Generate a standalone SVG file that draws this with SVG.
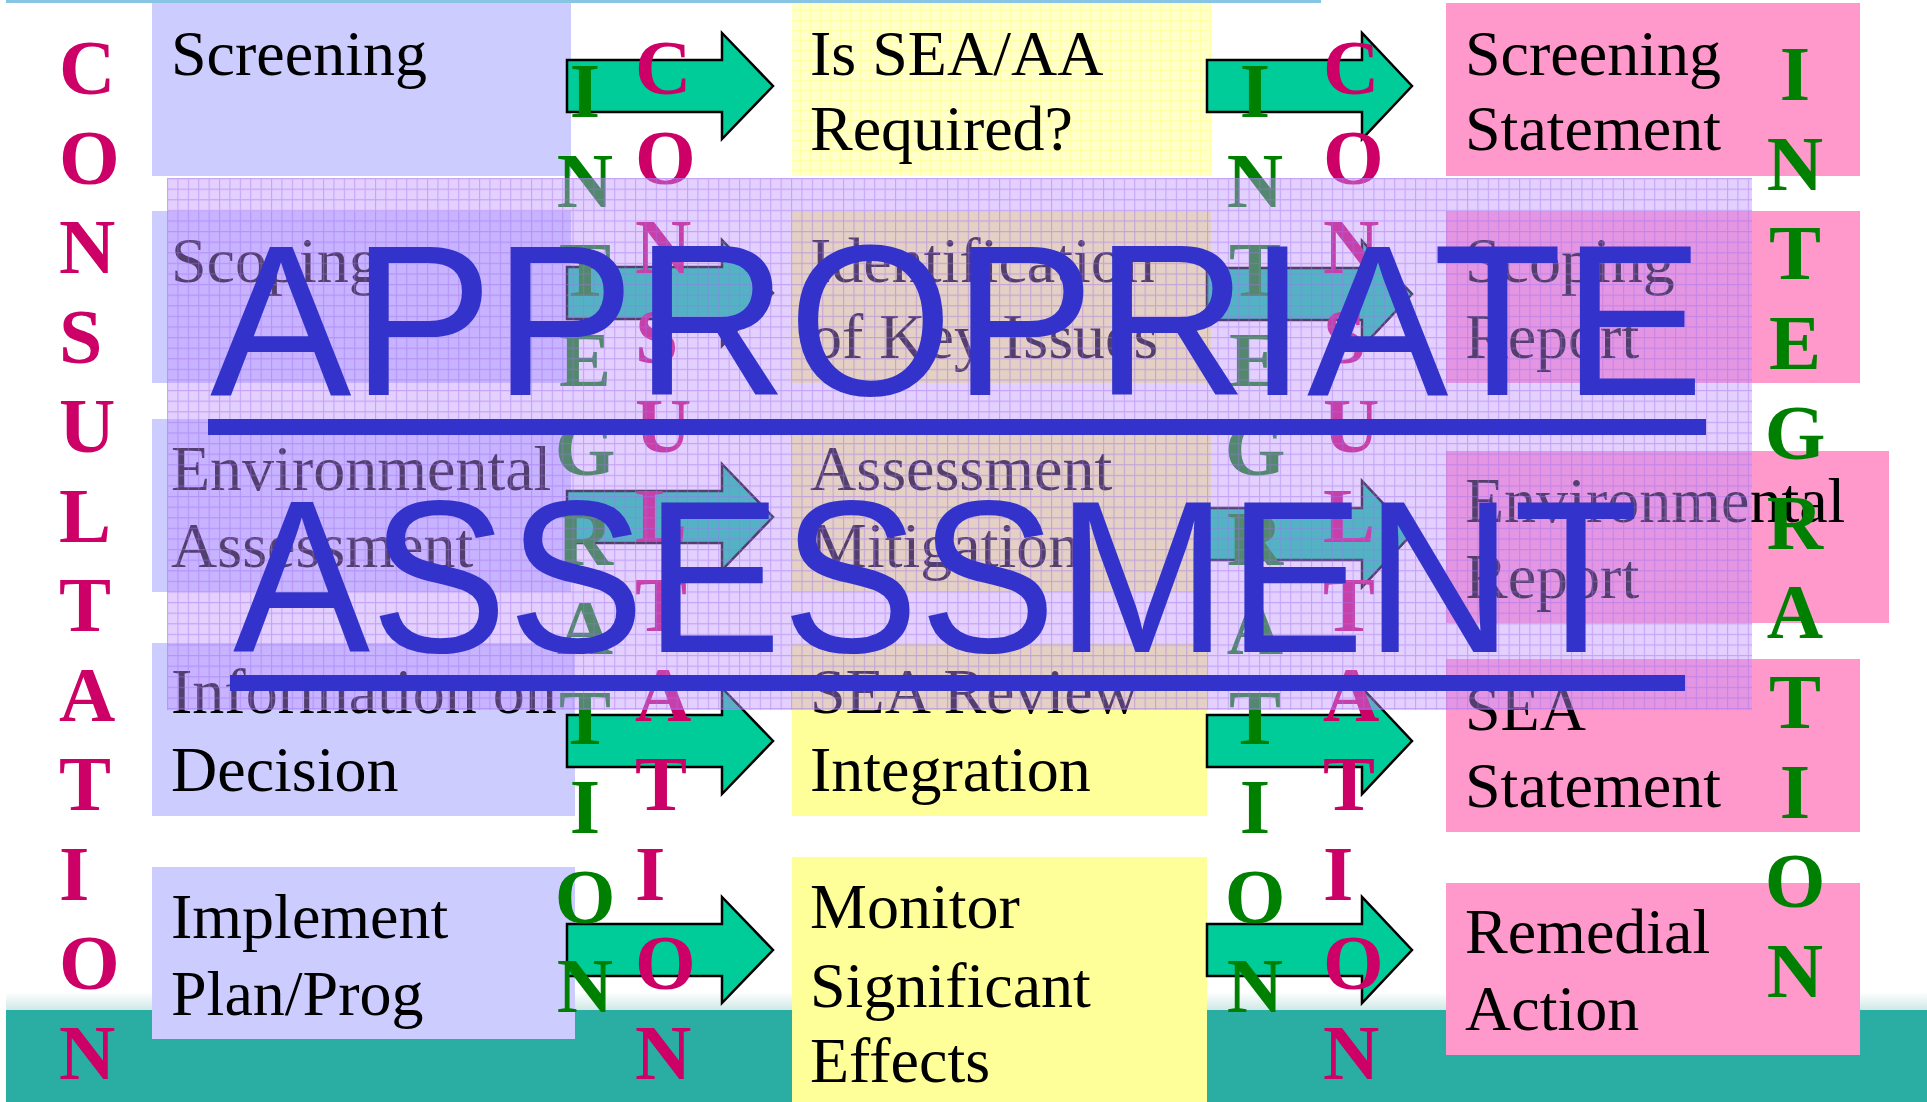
<svg xmlns="http://www.w3.org/2000/svg" width="1927" height="1102" viewBox="0 0 1927 1102">
<defs>
<style>
.bl{fill:#CCCCFF}
.ye{fill:#FFFF99}
.pk{fill:#FF99CC}
.t{font-family:"Liberation Serif","Times New Roman",serif;font-size:64px;fill:#000}
.mg{font-family:"Liberation Serif","Times New Roman",serif;font-size:78px;font-weight:bold;fill:#CC0066}
.gr{font-family:"Liberation Serif","Times New Roman",serif;font-size:78px;font-weight:bold;fill:#008000;text-anchor:middle}
.arr{fill:#00CC99;stroke:#000;stroke-width:2.5;stroke-linejoin:miter}
.big{font-family:"Liberation Sans",Arial,sans-serif;fill:#3333CC}
</style>
<pattern id="ygrid" width="10" height="10" patternUnits="userSpaceOnUse">
<rect width="10" height="10" fill="#FFFFCC"/>
<path d="M0,0.5H10M0.5,0V10" stroke="#FFFFA6" stroke-width="1"/>
</pattern>
<pattern id="pgrid" x="167" y="178" width="10.4" height="10.6" patternUnits="userSpaceOnUse">
<path d="M0,0.5H10.4M0.5,0V10.6" stroke="#A070F0" stroke-opacity="0.45" stroke-width="1.2"/>
</pattern>
<linearGradient id="fade" x1="0" y1="0" x2="0" y2="1">
<stop offset="0" stop-color="#FFFFFF"/>
<stop offset="1" stop-color="#CFE9E6"/>
</linearGradient>
</defs>
<rect width="1927" height="1102" fill="#FFFFFF"/>
<g id="background">
<line x1="6" y1="1.5" x2="1321" y2="1.5" stroke="#88C4E4" stroke-width="3"/>
<rect x="6" y="992" width="1921" height="18" fill="url(#fade)"/>
<rect x="6" y="1010" width="1921" height="92" fill="#2AAEA4"/>
</g>
<g id="col1">
<g id="screening"><rect class="bl" x="152" y="3" width="419" height="173"/><text class="t" x="171" y="75">Screening</text></g>
<g id="scoping"><rect class="bl" x="152" y="211" width="419" height="172"/><text class="t" x="171" y="282">Scoping</text></g>
<g id="env-assessment"><rect class="bl" x="152" y="419" width="419" height="173"/><text class="t" x="171" y="490">Environmental</text><text class="t" x="171" y="567">Assessment</text></g>
<g id="info-decision"><rect class="bl" x="152" y="643" width="423" height="173"/><text class="t" x="171" y="713">Information on</text><text class="t" x="171" y="791">Decision</text></g>
<g id="implement"><rect class="bl" x="152" y="867" width="423" height="172"/><text class="t" x="171" y="938">Implement</text><text class="t" x="171" y="1015">Plan/Prog</text></g>
</g>
<g id="col2">
<g id="sea-required"><rect fill="url(#ygrid)" x="792" y="3" width="419" height="173"/><text class="t" x="810" y="75">Is SEA/AA</text><text class="t" x="810" y="150">Required?</text></g>
<g id="key-issues"><rect class="ye" x="792" y="211" width="419" height="172"/><text class="t" x="810" y="282">Identification</text><text class="t" x="810" y="358">of Key Issues</text></g>
<g id="assess-mitig"><rect class="ye" x="792" y="419" width="419" height="173"/><text class="t" x="810" y="490">Assessment</text><text class="t" x="810" y="567">Mitigation</text></g>
<g id="sea-review"><rect class="ye" x="792" y="643" width="415" height="173"/><text class="t" x="810" y="713">SEA Review</text><text class="t" x="810" y="791">Integration</text></g>
<g id="monitor"><rect class="ye" x="792" y="857" width="415" height="245"/><text class="t" x="810" y="928">Monitor</text><text class="t" x="810" y="1007">Significant</text><text class="t" x="810" y="1082">Effects</text></g>
</g>
<g id="col3">
<g id="screening-statement"><rect class="pk" x="1446" y="3" width="414" height="173"/><text class="t" x="1465" y="75">Screening</text><text class="t" x="1465" y="150">Statement</text></g>
<g id="scoping-report"><rect class="pk" x="1446" y="211" width="414" height="172"/><text class="t" x="1465" y="282">Scoping</text><text class="t" x="1465" y="358">Report</text></g>
<g id="env-report"><rect class="pk" x="1446" y="451" width="443" height="172"/><text class="t" x="1465" y="522">Environmental</text><text class="t" x="1465" y="598">Report</text></g>
<g id="sea-statement"><rect class="pk" x="1446" y="659" width="414" height="173"/><text class="t" x="1465" y="730">SEA</text><text class="t" x="1465" y="807">Statement</text></g>
<g id="remedial"><rect class="pk" x="1446" y="883" width="414" height="172"/><text class="t" x="1465" y="953">Remedial</text><text class="t" x="1465" y="1030">Action</text></g>
</g>
<g id="connectors">
<path class="arr" d="M567,60H722V33L773,86L722,139V112H567Z"/>
<path class="arr" d="M567,267H722V240L773,293L722,346V319H567Z"/>
<path class="arr" d="M567,491H722V464L773,517L722,570V543H567Z"/>
<path class="arr" d="M567,715H722V688L773,741L722,794V767H567Z"/>
<path class="arr" d="M567,924H722V897L773,950L722,1003V976H567Z"/>
<path class="arr" d="M1207,60H1362V33L1412,86L1362,139V112H1207Z"/>
<path class="arr" d="M1207,268H1362V241L1412,294L1362,347V320H1207Z"/>
<path class="arr" d="M1207,508H1362V481L1412,534L1362,587V560H1207Z"/>
<path class="arr" d="M1207,715H1362V688L1412,741L1362,794V767H1207Z"/>
<path class="arr" d="M1207,924H1362V897L1412,950L1362,1003V976H1207Z"/>
</g>
<g id="consultation-left">
<text class="mg" x="59" y="94">C</text><text class="mg" x="59" y="183.5">O</text><text class="mg" x="59" y="273">N</text><text class="mg" x="59" y="362.5">S</text><text class="mg" x="59" y="452">U</text><text class="mg" x="59" y="541.5">L</text><text class="mg" x="59" y="631">T</text><text class="mg" x="59" y="720.5">A</text><text class="mg" x="59" y="810">T</text><text class="mg" x="59" y="899.5">I</text><text class="mg" x="59" y="989">O</text><text class="mg" x="59" y="1078.5">N</text>
</g>
<g id="integration-mid1">
<text class="gr" x="585" y="117">I</text><text class="gr" x="585" y="206.5">N</text><text class="gr" x="585" y="296">T</text><text class="gr" x="585" y="385.5">E</text><text class="gr" x="585" y="475">G</text><text class="gr" x="585" y="564.5">R</text><text class="gr" x="585" y="654">A</text><text class="gr" x="585" y="743.5">T</text><text class="gr" x="585" y="833">I</text><text class="gr" x="585" y="922.5">O</text><text class="gr" x="585" y="1012">N</text>
</g>
<g id="consultation-mid1">
<text class="mg" x="635" y="94">C</text><text class="mg" x="635" y="183.5">O</text><text class="mg" x="635" y="273">N</text><text class="mg" x="635" y="362.5">S</text><text class="mg" x="635" y="452">U</text><text class="mg" x="635" y="541.5">L</text><text class="mg" x="635" y="631">T</text><text class="mg" x="635" y="720.5">A</text><text class="mg" x="635" y="810">T</text><text class="mg" x="635" y="899.5">I</text><text class="mg" x="635" y="989">O</text><text class="mg" x="635" y="1078.5">N</text>
</g>
<g id="integration-mid2">
<text class="gr" x="1255" y="117">I</text><text class="gr" x="1255" y="206.5">N</text><text class="gr" x="1255" y="296">T</text><text class="gr" x="1255" y="385.5">E</text><text class="gr" x="1255" y="475">G</text><text class="gr" x="1255" y="564.5">R</text><text class="gr" x="1255" y="654">A</text><text class="gr" x="1255" y="743.5">T</text><text class="gr" x="1255" y="833">I</text><text class="gr" x="1255" y="922.5">O</text><text class="gr" x="1255" y="1012">N</text>
</g>
<g id="consultation-mid2">
<text class="mg" x="1323" y="94">C</text><text class="mg" x="1323" y="183.5">O</text><text class="mg" x="1323" y="273">N</text><text class="mg" x="1323" y="362.5">S</text><text class="mg" x="1323" y="452">U</text><text class="mg" x="1323" y="541.5">L</text><text class="mg" x="1323" y="631">T</text><text class="mg" x="1323" y="720.5">A</text><text class="mg" x="1323" y="810">T</text><text class="mg" x="1323" y="899.5">I</text><text class="mg" x="1323" y="989">O</text><text class="mg" x="1323" y="1078.5">N</text>
</g>
<g id="integration-right">
<text class="gr" x="1795" y="100">I</text><text class="gr" x="1795" y="189.7">N</text><text class="gr" x="1795" y="279.4">T</text><text class="gr" x="1795" y="369.1">E</text><text class="gr" x="1795" y="458.8">G</text><text class="gr" x="1795" y="548.5">R</text><text class="gr" x="1795" y="638.2">A</text><text class="gr" x="1795" y="727.9">T</text><text class="gr" x="1795" y="817.6">I</text><text class="gr" x="1795" y="907.3">O</text><text class="gr" x="1795" y="997">N</text>
</g>
<g id="overlay">
<rect x="167" y="178" width="1585" height="532" fill="#C192FF" fill-opacity="0.43"/>
<rect x="167" y="178" width="1585" height="532" fill="url(#pgrid)"/>
<text class="big" x="210" y="395" font-size="216" textLength="1494" lengthAdjust="spacingAndGlyphs">APPROPRIATE</text>
<rect x="208" y="419" width="1498" height="16" fill="#3333CC"/>
<text class="big" x="233" y="652" font-size="218" textLength="1406" lengthAdjust="spacingAndGlyphs">ASSESSMENT</text>
<rect x="230" y="675" width="1455" height="16" fill="#3333CC"/>
</g>
</svg>
